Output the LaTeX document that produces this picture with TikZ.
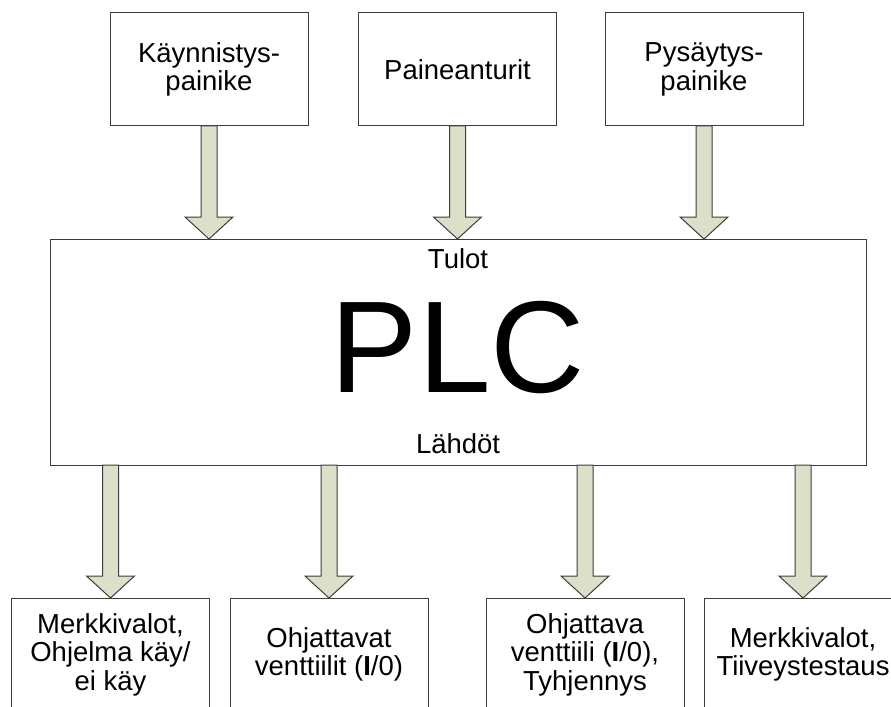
\documentclass[tikz,border=0pt]{standalone}
\usepackage{fontspec}
\setmainfont{Liberation Sans}
\usetikzlibrary{calc, positioning}
\definecolor{arrowfill}{RGB}{221,224,200}
\definecolor{edgegray}{RGB}{60,60,60}
\tikzset{
  box/.style={draw=edgegray, line width=0.75pt, fill=white, align=center,
    inner sep=0pt, outer sep=0pt, minimum width=148.5pt, minimum height=84.75pt,
    font=\fontsize{20.6}{21.3}\selectfont},
  lbl/.style={anchor=base, inner sep=0pt, font=\fontsize{20.6}{21.3}\selectfont},
  blockarr/.style={draw=edgegray, line width=0.75pt, fill=arrowfill, line join=miter},
}
% block arrow pointing down, from #1 to the tip #2
\newcommand{\blockarrow}[2]{%
  \draw[blockarr] ($(#1)+(-8,0)$) -- ($(#2)+(-8,-22)$) -- ($(#2)+(-24,-22)$)
    -- (#2) -- ($(#2)+(24,-22)$) -- ($(#2)+(8,-22)$) -- ($(#1)+(8,0)$) -- cycle;}

\begin{document}
\begin{tikzpicture}[x=0.75pt, y=-0.75pt]
  \useasboundingbox (0,0) rectangle (891,706);
  % Inputs
  \node[box] (kaynn) at (209,69.5) {Käynnistys-\\painike};
  \node[box] (paine) at (457.5,69.5) {Paineanturit};
  \node[box] (pysay) at (704,69.5) {Pysäytys-\\painike};
  % PLC block
  \node[box, minimum width=612pt, minimum height=169.5pt] (plc) at (458,352) {};
  \node[lbl] (tulot) at (458,268) {Tulot};
  \node[lbl, font=\fontsize{98}{100}\selectfont] (plctext) at (458,392) {PLC};
  \node[lbl] (lahdot) at (458,453) {Lähdöt};
  % Outputs (bottom edge falls outside the picture)
  \node[box, anchor=north] (merkki) at (110.5,598) {Merkkivalot,\\Ohjelma käy/\\ei käy};
  \node[box, anchor=north] (venttiilit) at (329,598) {Ohjattavat\\venttiilit (\textbf{I}/0)};
  \node[box, anchor=north] (tyhj) at (585,598) {Ohjattava\\venttiili (\textbf{I}/0),\\Tyhjennys};
  \node[box, anchor=north] (tiivey) at (803,598) {Merkkivalot,\\Tiiveystestaus};
  % Arrows
  \foreach \src in {kaynn, paine, pysay}
    {\blockarrow{\src.south}{plc.north -| \src.south}}
  \foreach \dst in {merkki, venttiilit, tyhj, tiivey}
    {\blockarrow{plc.south -| \dst.north}{\dst.north}}
\end{tikzpicture}
\end{document}
